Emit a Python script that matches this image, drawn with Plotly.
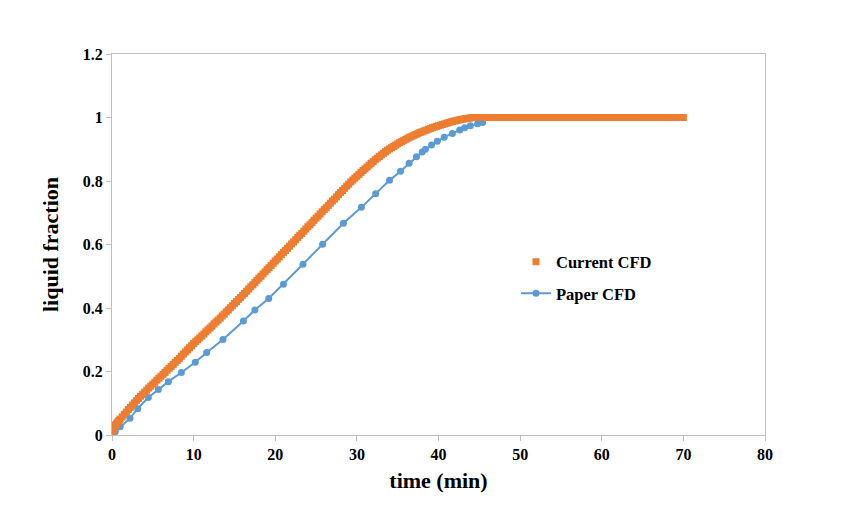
import plotly.graph_objects as go

# ---- Current CFD (dense curve) ----
early_t = [0.0, 0.1, 0.2, 0.3, 0.4, 0.5, 0.625, 0.75, 0.875]
early_y = [0.0, 0.012, 0.020, 0.026, 0.030, 0.034, 0.038, 0.042, 0.046]

rise_t = [1.0 + 0.25 * i for i in range(173)]  # 1.0 ... 44.0
rise_y = [
    0.050, 0.057, 0.065, 0.072,   # 1
    0.080, 0.087, 0.094, 0.101,   # 2
    0.108, 0.115, 0.122, 0.128,   # 3
    0.135, 0.141, 0.148, 0.154,   # 4
    0.160, 0.166, 0.173, 0.179,   # 5
    0.185, 0.191, 0.197, 0.204,   # 6
    0.210, 0.216, 0.222, 0.229,   # 7
    0.235, 0.241, 0.248, 0.255,   # 8
    0.262, 0.268, 0.275, 0.281,   # 9
    0.288, 0.294, 0.300, 0.306,   # 10
    0.312, 0.318, 0.325, 0.331,   # 11
    0.337, 0.343, 0.350, 0.356,   # 12
    0.362, 0.368, 0.375, 0.381,   # 13
    0.388, 0.394, 0.401, 0.407,   # 14
    0.414, 0.420, 0.427, 0.433,   # 15
    0.440, 0.446, 0.453, 0.460,   # 16
    0.467, 0.473, 0.480, 0.487,   # 17
    0.494, 0.500, 0.507, 0.514,   # 18
    0.521, 0.527, 0.534, 0.541,   # 19
    0.548, 0.554, 0.561, 0.568,   # 20
    0.575, 0.581, 0.588, 0.595,   # 21
    0.602, 0.608, 0.615, 0.622,   # 22
    0.629, 0.635, 0.642, 0.649,   # 23
    0.656, 0.662, 0.669, 0.676,   # 24
    0.683, 0.689, 0.696, 0.703,   # 25
    0.710, 0.716, 0.723, 0.730,   # 26
    0.737, 0.743, 0.750, 0.757,   # 27
    0.764, 0.770, 0.777, 0.784,   # 28
    0.790, 0.797, 0.803, 0.809,   # 29
    0.815, 0.821, 0.827, 0.833,   # 30
    0.838, 0.844, 0.850, 0.856,   # 31
    0.861, 0.867, 0.872, 0.877,   # 32
    0.882, 0.887, 0.892, 0.897,   # 33
    0.901, 0.905, 0.909, 0.913,   # 34
    0.917, 0.921, 0.924, 0.928,   # 35
    0.931, 0.935, 0.938, 0.941,   # 36
    0.944, 0.947, 0.950, 0.953,   # 37
    0.955, 0.958, 0.960, 0.963,   # 38
    0.965, 0.968, 0.970, 0.972,   # 39
    0.974, 0.976, 0.978, 0.980,   # 40
    0.982, 0.984, 0.986, 0.988,   # 41
    0.989, 0.991, 0.992, 0.994,   # 42
    0.995, 0.996, 0.997, 0.998,   # 43
    0.999,                        # 44
]

flat_t = [44.25 + 0.25 * i for i in range(104)]  # 44.25 ... 70.0
flat_y = [1.0] * 104

cur_t = early_t + rise_t + flat_t
cur_y = early_y + rise_y + flat_y

# ---- Paper CFD ----
pap_t = [0, 0.4, 1.0, 2.2, 3.15, 4.45, 5.67, 6.9, 8.5, 10.2, 11.6, 13.6, 16.1, 17.5, 19.2, 21.0, 23.4, 25.8,
         28.35, 30.55, 32.3, 34.0, 35.35, 36.4, 37.3, 38.0, 38.4, 39.15, 39.85, 40.7, 41.7, 42.6, 43.2,
         43.9, 44.8, 45.4]
pap_y = [0, 0.01, 0.026, 0.053, 0.083, 0.118, 0.143, 0.168, 0.197, 0.229, 0.260, 0.301, 0.359, 0.394, 0.430,
         0.475, 0.538, 0.601, 0.667, 0.717, 0.760, 0.802, 0.831, 0.856, 0.876, 0.891, 0.900, 0.913, 0.925,
         0.938, 0.950, 0.961, 0.968, 0.974, 0.980, 0.984]

x_ticks = [0, 10, 20, 30, 40, 50, 60, 70, 80]
y_ticks = [0, 0.2, 0.4, 0.6, 0.8, 1, 1.2]
y_tick_text = ["0", "0.2", "0.4", "0.6", "0.8", "1", "1.2"]

BLUE = "#5B9BD5"
ORANGE = "#ED7D31"
AX = "#BFBFBF"
FONT = "Liberation Serif"

fig = go.Figure()
fig.add_trace(go.Scatter(
    x=pap_t, y=pap_y, mode="lines+markers", name="Paper CFD",
    line=dict(color=BLUE, width=2),
    marker=dict(color=BLUE, size=7, symbol="circle"),
    legend="legend2", showlegend=True,
))
fig.add_trace(go.Scatter(
    x=cur_t, y=cur_y, mode="markers", name="Current CFD",
    marker=dict(color=ORANGE, size=7, symbol="square", line=dict(width=0)),
    legend="legend", showlegend=True,
))

tickfont = dict(family=FONT, size=16, color="black", weight="bold")
titlefont = dict(family=FONT, size=22, color="black", weight="bold")
legfont = dict(family=FONT, size=16.5, color="black", weight="bold")

fig.update_layout(
    width=852, height=529,
    margin=dict(l=104, r=95, t=46, b=102),
    paper_bgcolor="white", plot_bgcolor="white",
    showlegend=True,
    xaxis=dict(
        range=[0, 80], tickvals=x_ticks, ticktext=[str(v) for v in x_ticks],
        showgrid=False, zeroline=False, showline=True, linecolor=AX, linewidth=1,
        mirror=True, ticks="outside", ticklen=5, tickcolor=AX, tickfont=tickfont,
        title=dict(text="time (min)", font=titlefont, standoff=10),
    ),
    yaxis=dict(
        range=[0, 1.2], tickvals=y_ticks, ticktext=y_tick_text,
        showgrid=False, zeroline=False, showline=True, linecolor=AX, linewidth=1,
        mirror=True, ticks="outside", ticklen=5, tickcolor=AX, tickfont=tickfont,
        title=dict(text="liquid fraction", font=titlefont, standoff=18),
    ),
    legend=dict(x=0.6187, y=0.454, xanchor="left", yanchor="middle", font=legfont,
                bgcolor="rgba(0,0,0,0)", borderwidth=0),
    legend2=dict(x=0.6187, y=0.371, xanchor="left", yanchor="middle", font=legfont,
                 bgcolor="rgba(0,0,0,0)", borderwidth=0),
)

fig.write_html("out.html")
